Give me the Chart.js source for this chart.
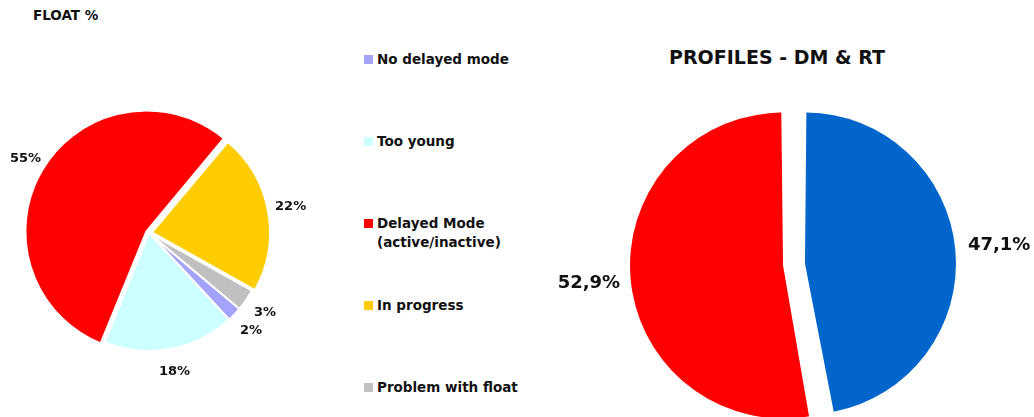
<!DOCTYPE html>
<html>
<head>
<meta charset="utf-8">
<script src="https://cdn.jsdelivr.net/npm/chart.js@4.4.1/dist/chart.umd.min.js"></script>
<style>
    html, body { margin: 0; padding: 0; background: #fff; overflow: hidden; }
    body { width: 1034px; height: 417px; position: relative; font-family: "DejaVu Sans", sans-serif; font-weight: bold; color: #111; }
    .title { position: absolute; white-space: nowrap; }
    #float-title { left: 33px; top: 7px; font-size: 13.5px; line-height: 16px; }
    #prof-title { left: 577px; width: 400px; text-align: center; top: 46px; font-size: 19px; line-height: 22px; }
    #float-box { position: absolute; left: 0; top: 0; width: 330px; height: 417px; }
    #prof-box { position: absolute; left: 540px; top: 0; width: 494px; height: 417px; }
    .leg-item { position: absolute; left: 364px; font-size: 13.5px; line-height: 19px; white-space: nowrap; }
    .leg-sw { position: absolute; left: 0; top: 5px; width: 9px; height: 9px; }
    .leg-txt { margin-left: 13px; }
</style>
</head>
<body>
<div class="title" id="float-title">FLOAT %</div>
<div class="title" id="prof-title">PROFILES - DM &amp; RT</div>
<div id="float-box"><canvas id="floatChart"></canvas></div>
<div id="prof-box"><canvas id="profChart"></canvas></div>
<div id="legend"></div>

<script>
// === ДАННЫЕ ===
const floatLabels = [['No delayed mode'], ['Too young'], ['Delayed Mode', '(active/inactive)'], ['In progress'], ['Problem with float']];
const floatValues = [2, 18, 55, 22, 3];
const floatColors = ['#a3a3fb', '#ccffff', '#ff0000', '#ffcc00', '#c0c0c0'];

const profLabels = ['RT', 'DM'];
const profValues = [47.1, 52.9];
const profColors = ['#0066cc', '#ff0000'];

// подписи процентов снаружи круга
const outsideLabels = {
    id: 'outsideLabels',
    afterDatasetsDraw(chart, args, opts) {
        const ctx = chart.ctx;
        const meta = chart.getDatasetMeta(0);
        const data = chart.data.datasets[0].data;
        ctx.save();
        ctx.font = `bold ${opts.size}px "DejaVu Sans"`;
        ctx.fillStyle = '#111';
        ctx.textAlign = 'center';
        ctx.textBaseline = 'middle';
        meta.data.forEach((arc, i) => {
            const mid = (arc.startAngle + arc.endAngle) / 2;
            const off = (arc.options.offset || 0) / 4;
            const r = arc.outerRadius + off + opts.gap;
            const txt = data[i].toFixed(opts.decimals).replace('.', ',') + '%';
            ctx.fillText(txt, arc.x + Math.cos(mid) * r, arc.y + Math.sin(mid) * r);
        });
        ctx.restore();
    }
};

Chart.defaults.font.family = '"DejaVu Sans", sans-serif';

new Chart(document.getElementById('floatChart'), {
    type: 'pie',
    data: {
        labels: floatLabels.map(l => l.join(' ')),
        datasets: [{
            data: floatValues,
            backgroundColor: floatColors,
            borderColor: '#fff',
            borderWidth: 2,
            offset: [0, 0, 12, 12, 0]
        }]
    },
    options: {
        responsive: true,
        maintainAspectRatio: false,
        animation: false,
        events: [],
        rotation: 130,
        radius: 118,
        layout: { padding: { left: 0, right: 32, top: 49, bottom: 0 } },
        plugins: {
            legend: { display: false },
            tooltip: { enabled: false },
            outsideLabels: { size: 13, gap: 23, decimals: 0 }
        }
    },
    plugins: [outsideLabels]
});

new Chart(document.getElementById('profChart'), {
    type: 'pie',
    data: {
        labels: profLabels,
        datasets: [{
            data: profValues,
            backgroundColor: profColors,
            borderWidth: 0,
            offset: 44
        }]
    },
    options: {
        responsive: true,
        maintainAspectRatio: false,
        animation: false,
        events: [],
        rotation: 0,
        radius: 142,
        layout: { padding: { left: 14, right: 0, top: 112, bottom: 0 } },
        plugins: {
            legend: { display: false },
            tooltip: { enabled: false },
            outsideLabels: { size: 18, gap: 53, decimals: 1 }
        }
    },
    plugins: [outsideLabels]
});

// === ЛЕГЕНДА ===
const legend = document.getElementById('legend');
floatLabels.forEach((lines, i) => {
    const item = document.createElement('div');
    item.className = 'leg-item';
    item.style.top = (50 + i * 82) + 'px';
    item.innerHTML = `<span class="leg-sw" style="background:${floatColors[i]}"></span><div class="leg-txt">${lines.join('<br>')}</div>`;
    legend.appendChild(item);
});
</script>
</body>
</html>
